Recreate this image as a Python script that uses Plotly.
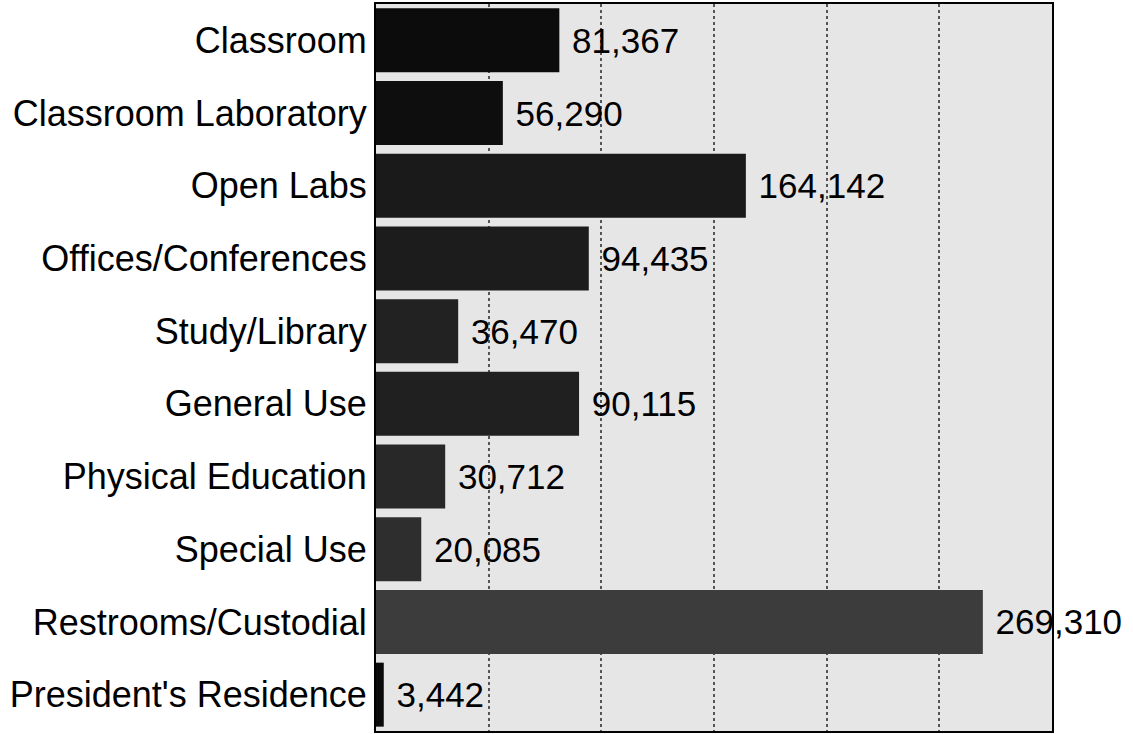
import plotly.graph_objects as go

# Space usage by category (square feet)
categories = [
    "Classroom",
    "Classroom Laboratory",
    "Open Labs",
    "Offices/Conferences",
    "Study/Library",
    "General Use",
    "Physical Education",
    "Special Use",
    "Restrooms/Custodial",
    "President's Residence",
]
square_feet = [81367, 56290, 164142, 94435, 36470, 90115, 30712, 20085, 269310, 3442]

# halftone-ish shades of the scanned bars
bar_colors = [
    "#0c0c0c", "#0e0e0e", "#1a1a1a", "#1c1c1c", "#222222",
    "#202020", "#282828", "#2e2e2e", "#3c3c3c", "#0a0a0a",
]

fig = go.Figure()

fig.add_trace(
    go.Bar(
        x=square_feet,
        y=categories,
        orientation="h",
        marker=dict(color=bar_colors, line=dict(width=0)),
        texttemplate=" %{x:,.0f}",
        textposition="outside",
        constraintext="none",
        cliponaxis=False,
        textfont=dict(family="Liberation Sans, Arial, sans-serif", size=35, color="#000000"),
        showlegend=False,
        hoverinfo="skip",
    )
)

fig.update_layout(
    width=1133,
    height=734,
    margin=dict(l=376, r=81, t=2, b=3),
    paper_bgcolor="white",
    plot_bgcolor="#e6e6e6",
    bargap=0.12,
    font=dict(family="Liberation Sans, Arial, sans-serif", size=36, color="#000000"),
    xaxis=dict(
        range=[0, 300000],
        dtick=50000,
        showticklabels=False,
        showgrid=True,
        gridcolor="#555555",
        gridwidth=1.5,
        griddash="dot",
        zeroline=False,
        showline=True,
        mirror=True,
        linecolor="#000000",
        linewidth=2,
        ticks="",
    ),
    yaxis=dict(
        autorange="reversed",
        showgrid=False,
        showline=True,
        mirror=True,
        linecolor="#000000",
        linewidth=2,
        ticks="",
        tickfont=dict(size=36),
    ),
)

# drop the browser's default body margin so the figure sits at the page corner
fig.write_html(
    "out.html",
    config={"displayModeBar": False},
    post_script="document.body.style.margin='0';",
)
